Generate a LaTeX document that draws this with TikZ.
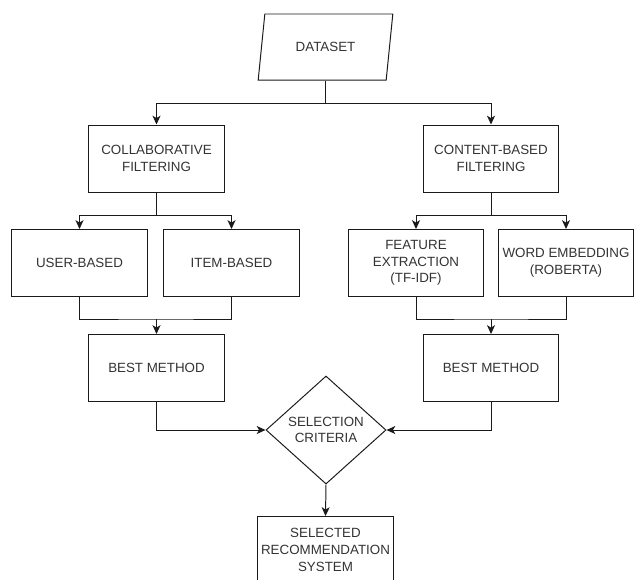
\documentclass[tikz,border=0pt]{standalone}
\usepackage{fontspec}
\setmainfont{Liberation Sans}
\usetikzlibrary{arrows.meta, shapes.geometric}

\definecolor{txtgray}{HTML}{333333}
\definecolor{edgegray}{HTML}{1A1A1A}

\begin{document}
\begin{tikzpicture}[x=0.025cm, y=-0.025cm, line width=0.7pt,
      every node/.style={font=\fontsize{9.5}{11.9}\selectfont, text=txtgray, align=center},
      box/.style={draw=edgegray, rectangle, minimum width=3.375cm, minimum height=1.675cm, inner sep=1pt},
      datain/.style={draw=edgegray, trapezium, trapezium left angle=71, trapezium right angle=109,
                     trapezium stretches=true, minimum width=3.375cm, minimum height=1.65cm, inner sep=0pt},
      decide/.style={draw=edgegray, diamond, minimum width=3cm, minimum height=2.7cm, inner sep=0pt, aspect=1.1},
      link/.style={draw=edgegray},
      arr/.style={link, -{Stealth[length=2.2mm, width=2mm, inset=0.6mm]}}]

    \useasboundingbox (0,0) rectangle (635,579);

    % input
    \node[datain] (data) at (325.5, 47) {DATASET};

    % two families of filtering
    \node[box] (collab)  at (156.5, 158.5) {COLLABORATIVE\\FILTERING};
    \node[box] (content) at (491, 158.5)   {CONTENT-BASED\\FILTERING};

    % methods in each family
    \node[box] (user)    at (79.5, 263)  {USER-BASED};
    \node[box] (item)    at (231.5, 263) {ITEM-BASED};
    \node[box] (tfidf)   at (416, 263)   {FEATURE\\EXTRACTION\\(TF-IDF)};
    \node[box] (roberta) at (566, 263)   {WORD EMBEDDING\\(ROBERTA)};

    % best of each family
    \node[box] (bestcf)  at (156.5, 368) {BEST METHOD};
    \node[box] (bestcb)  at (491, 368)   {BEST METHOD};

    % decision and result
    \node[decide] (crit) at (326, 430) {SELECTION\\CRITERIA};
    \node[box] (final)   at (325.5, 550) {SELECTED\\RECOMMENDATION\\SYSTEM};

    % fork and merge points
    \coordinate (topfork) at (325.5, 103);
    \coordinate (cffork)  at (156.5, 215);
    \coordinate (cbfork)  at (491, 215);
    \coordinate (cfmerge) at (156.5, 319);
    \coordinate (cbmerge) at (491, 319);

    % dataset -> filtering
    \draw[arr] (data.center |- data.south) -- (topfork) -| (collab.north);
    \draw[arr] (topfork) -| (content.north);

    % filtering -> methods
    \draw[arr] (collab.south) -- (cffork) -| (user.north);
    \draw[arr] (cffork) -| (item.north);
    \draw[arr] (content.south) -- (cbfork) -| (tfidf.north);
    \draw[arr] (cbfork) -| (roberta.north);

    % methods -> best method
    \draw[link] (user.south) |- (cfmerge) -| (item.south);
    \draw[arr] (cfmerge) -- (bestcf.north);
    \draw[link] (tfidf.south) |- (cbmerge) -| (roberta.south);
    \draw[arr] (cbmerge) -- (bestcb.north);

    % best methods -> selection -> result
    \draw[arr] (bestcf.south) |- (crit.west);
    \draw[arr] (bestcb.south) |- (crit.east);
    \draw[arr] (crit.south) -- (final.north);

    \end{tikzpicture}
\end{document}
